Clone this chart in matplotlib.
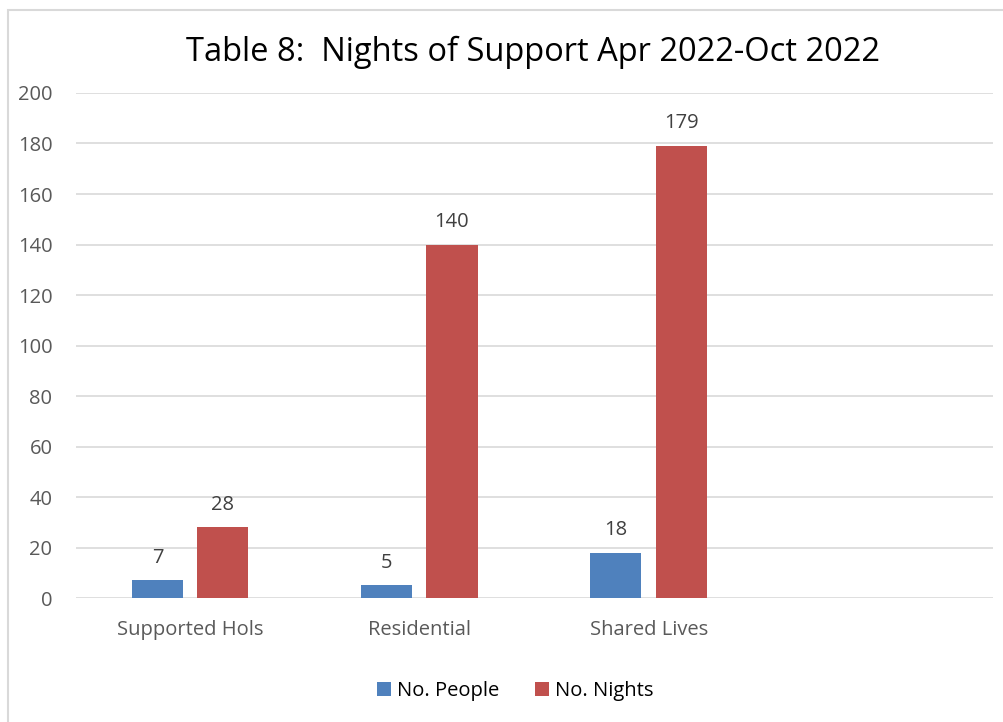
import numpy as np
import matplotlib.pyplot as plt
from matplotlib.patches import Rectangle

plt.rcParams['font.family'] = ['Open Sans', 'DejaVu Sans']

categorias = ["Supported Hols", "Residential", "Shared Lives", ""]
pessoas = [7, 5, 18]
noites = [28, 140, 179]
titulo = "Table 8:  Nights of Support Apr 2022-Oct 2022"

azul = "#4F81BD"
vermelho = "#C0504D"
cinza_texto = "#595959"

fig = plt.figure(figsize=(10.04, 7.22), dpi=100)
ax = fig.add_axes([0.0757, 0.1717, 0.9133, 0.6995])

x = np.arange(len(pessoas))
larg = 0.223
ax.bar(x - 0.145, pessoas, larg, color=azul, label="No. People", zorder=3)
ax.bar(x + 0.14, noites, larg, color=vermelho, label="No. Nights", zorder=3)

for xi, v in zip(x, pessoas):
    ax.text(xi - 0.145, v + 5, str(v), ha='center', va='bottom', fontsize=14.5, color='#404040')
for xi, v in zip(x, noites):
    ax.text(xi + 0.14, v + 5, str(v), ha='center', va='bottom', fontsize=14.5, color='#404040')

ax.set_xlim(-0.5, 3.5)
ax.set_ylim(0, 200)
ax.set_xticks(np.arange(len(categorias)))
ax.set_xticklabels(categorias)
ax.set_yticks(np.arange(0, 201, 20))
ax.tick_params(axis='both', length=0, labelsize=14.5, labelcolor=cinza_texto)
ax.tick_params(axis='x', pad=16)
ax.tick_params(axis='y', pad=17)
ax.grid(axis='y', color='#D9D9D9', linewidth=1.2, zorder=0)
for s in ax.spines.values():
    s.set_visible(False)

fig.text(0.531, 0.927, titulo, ha='center', va='center', fontsize=23.5, color='black')

ax.legend(loc='center', bbox_to_anchor=(0.479, -0.185), ncol=2, frameon=False,
          fontsize=14.5, handlelength=0.7, handleheight=0.7, columnspacing=1.8,
          handletextpad=0.3)

fig.patches.append(Rectangle((8/1004, -0.1), 1.2, 1 - 10/722 + 0.1, transform=fig.transFigure,
                             fill=False, edgecolor='#D9D9D9', linewidth=1.5))

fig.savefig("out.png", dpi=100)
